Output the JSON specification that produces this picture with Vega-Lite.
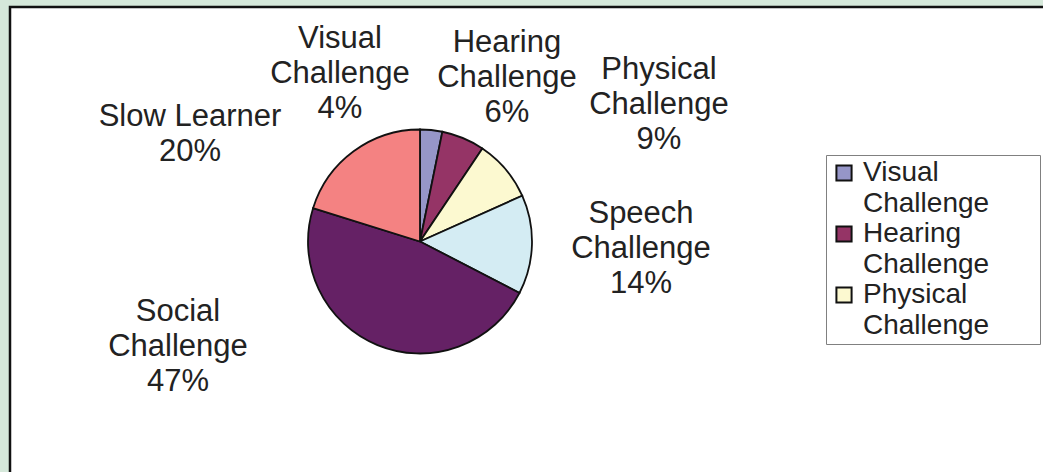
{
  "$schema": "https://vega.github.io/schema/vega-lite/v6.json",
  "width": 1036,
  "height": 468,
  "autosize": {"type": "none"},
  "padding": {"left": 10, "top": 7, "right": 0, "bottom": 0},
  "background": "#d5e8da",
  "config": {
    "view": {"fill": "white", "stroke": "#111111", "strokeWidth": 2.5},
    "text": {"font": "Liberation Sans"},
    "style": {"guide-label": {"lineHeight": 31}}
  },
  "data": {
    "values": [
      {"cat": "Visual Challenge", "value": 3.2, "pct": "4%", "seq": 1},
      {"cat": "Hearing Challenge", "value": 6.2, "pct": "6%", "seq": 2},
      {"cat": "Physical Challenge", "value": 8.9, "pct": "9%", "seq": 3},
      {"cat": "Speech Challenge", "value": 14.3, "pct": "14%", "seq": 4},
      {"cat": "Social Challenge", "value": 47.2, "pct": "47%", "seq": 5},
      {"cat": "Slow Learner", "value": 20.2, "pct": "20%", "seq": 6}
    ]
  },
  "transform": [
    {"calculate": "(datum.cat === 'Slow Learner' ? datum.cat : replace(datum.cat, ' ', '\\n')) + '\\n' + datum.pct", "as": "label"}
  ],
  "encoding": {
    "theta": {"field": "value", "type": "quantitative", "stack": true},
    "order": {"field": "seq", "type": "quantitative"},
    "x": {"value": 410},
    "y": {"value": 234.5}
  },
  "layer": [
    {
      "mark": {"type": "arc", "outerRadius": 112, "stroke": "#111111", "strokeWidth": 1.8},
      "encoding": {
        "color": {
          "field": "cat",
          "type": "nominal",
          "scale": {
            "domain": ["Visual Challenge", "Hearing Challenge", "Physical Challenge", "Speech Challenge", "Social Challenge", "Slow Learner"],
            "range": ["#9696c8", "#953466", "#fcf9d0", "#d4ecf3", "#652165", "#f48282"]
          },
          "legend": {
            "values": ["Visual Challenge", "Hearing Challenge", "Physical Challenge"],
            "orient": "none",
            "legendX": 816,
            "legendY": 148,
            "title": null,
            "symbolType": "square",
            "symbolSize": 230,
            "symbolStrokeColor": "#111111",
            "symbolStrokeWidth": 2,
            "labelFont": "Liberation Sans",
            "labelFontSize": 28,
            "labelColor": "#222222",
            "labelLimit": 600,
            "labelOffset": 5,
            "labelExpr": "[split(datum.label, ' ')[0], split(datum.label, ' ')[1] + '\u00a0\u00a0\u00a0\u00a0\u00a0\u00a0\u200b']",
            "fillColor": "white",
            "strokeColor": "#808080",
            "padding": 4,
            "rowPadding": 2
          }
        }
      }
    },
    {
      "mark": {"type": "text", "radius": 186.5, "dx": -98.7, "dy": -16.9, "fontSize": 31, "lineHeight": 35, "lineBreak": "\n", "align": "center", "baseline": "middle", "color": "#222222"},
      "encoding": {"text": {"condition": {"test": "datum.cat === 'Visual Challenge'", "field": "label"}, "value": ""}}
    },
    {
      "mark": {"type": "text", "radius": 186.1, "dx": 15.2, "dy": -26.8, "fontSize": 31, "lineHeight": 35, "lineBreak": "\n", "align": "center", "baseline": "middle", "color": "#222222"},
      "encoding": {"text": {"condition": {"test": "datum.cat === 'Hearing Challenge'", "field": "label"}, "value": ""}}
    },
    {
      "mark": {"type": "text", "radius": 276.2, "dx": 27.8, "dy": 6.5, "fontSize": 31, "lineHeight": 35, "lineBreak": "\n", "align": "center", "baseline": "middle", "color": "#222222"},
      "encoding": {"text": {"condition": {"test": "datum.cat === 'Physical Challenge'", "field": "label"}, "value": ""}}
    },
    {
      "mark": {"type": "text", "radius": 221.1, "dx": 0, "dy": -33.8, "fontSize": 31, "lineHeight": 35, "lineBreak": "\n", "align": "center", "baseline": "middle", "color": "#222222"},
      "encoding": {"text": {"condition": {"test": "datum.cat === 'Speech Challenge'", "field": "label"}, "value": ""}}
    },
    {
      "mark": {"type": "text", "radius": 263.6, "dx": -141.9, "dy": -173.3, "fontSize": 31, "lineHeight": 35, "lineBreak": "\n", "align": "center", "baseline": "middle", "color": "#222222"},
      "encoding": {"text": {"condition": {"test": "datum.cat === 'Social Challenge'", "field": "label"}, "value": ""}}
    },
    {
      "mark": {"type": "text", "radius": 253.9, "dx": -79.5, "dy": 80, "fontSize": 31, "lineHeight": 35, "lineBreak": "\n", "align": "center", "baseline": "middle", "color": "#222222"},
      "encoding": {"text": {"condition": {"test": "datum.cat === 'Slow Learner'", "field": "label"}, "value": ""}}
    }
  ]
}
